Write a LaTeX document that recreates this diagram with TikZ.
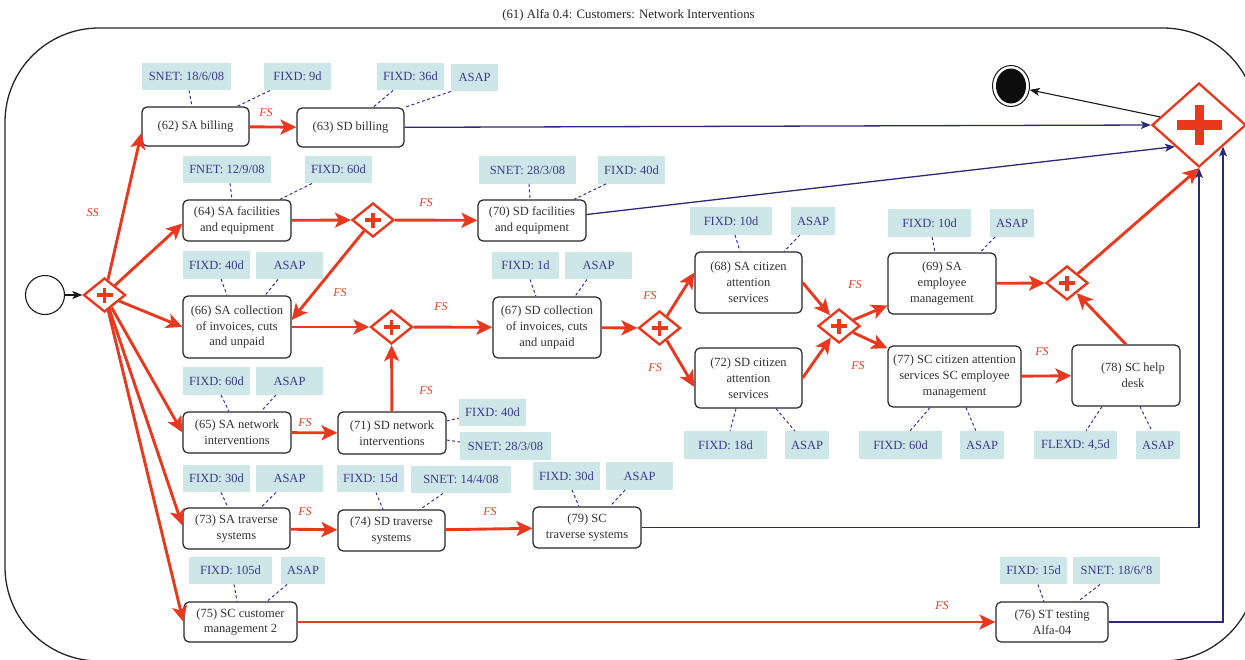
\documentclass[tikz,border=0pt]{standalone}
\usepackage{fontspec}
\setmainfont{Liberation Serif}
\usetikzlibrary{arrows.meta,shapes.geometric,calc}
\definecolor{bred}{HTML}{E8391E}
\definecolor{navy}{HTML}{2C2A78}
\definecolor{labfill}{HTML}{CDE7E9}
\definecolor{labtext}{HTML}{3A3A8C}
\definecolor{dashcol}{HTML}{3B2FA0}
\definecolor{tasktext}{HTML}{333333}
\begin{document}
\begin{tikzpicture}[x=1pt,y=-1pt,
  task/.style={draw=black!85, line width=1.2pt, rounded corners=5pt, fill=white, align=center,
    inner sep=0pt, text=tasktext, font=\fontsize{12.5}{15.8}\selectfont},
  sz/.style 2 args={minimum width=#1pt, minimum height=#2pt},
  lab/.style={fill=labfill, text=labtext, inner sep=0pt, minimum height=27.5pt,
    font=\fontsize{12.5}{13}\selectfont},
  gw/.style={diamond, draw=bred, line width=2.4pt, fill=white, minimum width=42pt,
    minimum height=34pt, inner sep=0pt,
    path picture={
      \fill[bred] ([xshift=-8pt,yshift=-1.8pt]path picture bounding box.center) rectangle ([xshift=8pt,yshift=1.8pt]path picture bounding box.center);
      \fill[bred] ([xshift=-1.8pt,yshift=-7.5pt]path picture bounding box.center) rectangle ([xshift=1.8pt,yshift=7.5pt]path picture bounding box.center);}},
  gwbig/.style={diamond, draw=bred, line width=2.3pt, fill=white, minimum width=94pt,
    minimum height=84pt, inner sep=0pt,
    path picture={
      \fill[bred] ([xshift=-22.5pt,yshift=-5pt]path picture bounding box.center) rectangle ([xshift=22.5pt,yshift=5pt]path picture bounding box.center);
      \fill[bred] ([xshift=-4.5pt,yshift=-20pt]path picture bounding box.center) rectangle ([xshift=4.5pt,yshift=20pt]path picture bounding box.center);}},
  startev/.style={circle, draw=black!90, line width=1.1pt, minimum size=39pt, inner sep=0pt},
  endev/.style={ellipse, draw=black!90, line width=1pt, minimum width=37pt, minimum height=41pt, inner sep=0pt,
    path picture={\fill[black!95] (path picture bounding box.center) ellipse [x radius=15pt, y radius=17.5pt];}},
  ra/.style={draw=bred, line width=2.9pt, -{Stealth[length=16pt,width=15pt,inset=4pt]}},
  na/.style={draw=navy, line width=1.3pt, -{Stealth[length=10pt,width=8pt,inset=2.5pt]}},
  ka/.style={draw=black!90, line width=1.1pt, -{Stealth[length=10pt,width=8pt,inset=2.5pt]}},
  dc/.style={draw=dashcol, line width=1pt, dash pattern=on 3pt off 2.5pt},
  fs/.style={text=bred, inner sep=0pt, font=\fontsize{12}{12}\selectfont\itshape}
]
\useasboundingbox (0,0) rectangle (1245,659);
\clip (0,0) rectangle (1245,659);

% title and frame
\node[font=\fontsize{12.8}{14}\selectfont, text=black!85] (title) at (628.5,15.5) {(61) Alfa 0.4: Customers: Network Interventions};
\draw[line width=1.3pt, black!85, rounded corners=94pt] (5,28) rectangle (1257,661);

% tasks
\node[task,sz={107}{39}] (t62) at (195.5,126.5) {(62) SA billing};
\node[task,sz={107}{39}] (t63) at (350.5,127.5) {(63) SD billing};
\node[task,sz={108}{41}] (t64) at (237,220.5) {(64) SA facilities\\and equipment};
\node[task,sz={108}{41}] (t70) at (532,220.5) {(70) SD facilities\\and equipment};
\node[task,sz={108}{62}] (t66) at (237,327) {(66) SA collection\\of invoices, cuts\\and unpaid};
\node[task,sz={108}{61}] (t67) at (547,327.5) {(67) SD collection\\of invoices, cuts\\and unpaid};
\node[task,sz={107}{61}] (t68) at (748.5,282.5) {(68) SA citizen\\attention\\services};
\node[task,sz={107}{60}] (t72) at (748.5,378) {(72) SD citizen\\attention\\services};
\node[task,sz={108}{61}] (t69) at (942,283.5) {(69) SA\\employee\\management};
\node[task,sz={133}{61}] (t77) at (954.5,376.5) {(77) SC citizen attention\\services SC employee\\management};
\node[task,sz={108}{61}] (t78) at (1126,375.5) {\hspace*{14pt}(78) SC help\\\hspace*{14pt}desk};
\node[task,sz={108}{41}] (t65) at (237,432.5) {(65) SA network\\interventions};
\node[task,sz={108}{42}] (t71) at (392,433) {(71) SD network\\interventions};
\node[task,sz={107}{41}] (t73) at (236.5,528.5) {(73) SA traverse\\systems};
\node[task,sz={107}{41}] (t74) at (391.5,530.5) {(74) SD traverse\\systems};
\node[task,sz={108}{41}] (t79) at (587,527.5) {(79) SC\\traverse systems};
\node[task,sz={113}{40}] (t75) at (240.5,622) {(75) SC customer\\management 2};
\node[task,sz={112}{40}] (t76) at (1052,622) {(76) ST testing\\Alfa-04};

% labels
\node[lab,minimum width=89pt] (l62a) at (186.5,76.5) {SNET: 18/6/08};
\node[lab,minimum width=67pt] (l62b) at (297.5,76.5) {FIXD: 9d};
\node[lab,minimum width=67pt] (l63a) at (410.5,76.5) {FIXD: 36d};
\node[lab,minimum width=47pt] (l63b) at (474.5,77.5) {ASAP};
\node[lab,minimum width=88pt] (l64a) at (227,169.5) {FNET: 12/9/08};
\node[lab,minimum width=67pt] (l64b) at (338.5,169.5) {FIXD: 60d};
\node[lab,minimum width=97pt] (l70a) at (527.5,170) {SNET: 28/3/08};
\node[lab,minimum width=67pt] (l70b) at (631.5,170) {FIXD: 40d};
\node[lab,minimum width=67pt] (l66a) at (216.5,265) {FIXD: 40d};
\node[lab,minimum width=67pt] (l66b) at (289.5,265.5) {ASAP};
\node[lab,minimum width=67pt] (l67a) at (525.5,265.5) {FIXD: 1d};
\node[lab,minimum width=67pt] (l67b) at (598.5,265.5) {ASAP};
\node[lab,minimum width=82pt] (l68a) at (731,221) {FIXD: 10d};
\node[lab,minimum width=44pt] (l68b) at (813,221) {ASAP};
\node[lab,minimum width=83pt] (l72a) at (725.5,445) {FIXD: 18d};
\node[lab,minimum width=44pt] (l72b) at (807,445) {ASAP};
\node[lab,minimum width=83pt] (l69a) at (929.5,223) {FIXD: 10d};
\node[lab,minimum width=44pt] (l69b) at (1012,223) {ASAP};
\node[lab,minimum width=83pt] (l77a) at (900.5,445) {FIXD: 60d};
\node[lab,minimum width=44pt] (l77b) at (982,445) {ASAP};
\node[lab,minimum width=83pt] (l78a) at (1075.5,445) {FLEXD: 4,5d};
\node[lab,minimum width=44pt] (l78b) at (1158,445) {ASAP};
\node[lab,minimum width=67pt] (l65a) at (216.5,381) {FIXD: 60d};
\node[lab,minimum width=67pt] (l65b) at (289.5,381) {ASAP};
\node[lab,minimum width=67pt] (l71a) at (492.5,412.5) {FIXD: 40d};
\node[lab,minimum width=91pt] (l71b) at (505.5,446) {SNET: 28/3/08};
\node[lab,minimum width=67pt] (l73a) at (216.5,478.5) {FIXD: 30d};
\node[lab,minimum width=67pt] (l73b) at (289.5,478.5) {ASAP};
\node[lab,minimum width=67pt] (l74a) at (370.5,478.5) {FIXD: 15d};
\node[lab,minimum width=100pt] (l74b) at (461,479.5) {SNET: 14/4/08};
\node[lab,minimum width=67pt] (l79a) at (566.5,476) {FIXD: 30d};
\node[lab,minimum width=67pt] (l79b) at (639.5,476) {ASAP};
\node[lab,minimum width=83pt] (l75a) at (230.5,570.5) {FIXD: 105d};
\node[lab,minimum width=44pt] (l75b) at (303,570.5) {ASAP};
\node[lab,minimum width=67pt] (l76a) at (1033.5,570.5) {FIXD: 15d};
\node[lab,minimum width=87pt] (l76b) at (1116.5,570.5) {SNET: 18/6/′8};

% dashed label connectors
\draw[dc] (189,0 |- l62a.south) -- (192,0 |- t62.north);
\draw[dc] (270,0 |- l62b.south) -- (237,0 |- t62.north);
\draw[dc] (393,0 |- l63a.south) -- (373,0 |- t63.north);
\draw[dc] (l63b.south west) -- (t63.north east);
\draw[dc] (230,0 |- l64a.south) -- (232,0 |- t64.north);
\draw[dc] (312,0 |- l64b.south) -- (280,0 |- t64.north);
\draw[dc] (529,0 |- l70a.south) -- (530,0 |- t70.north);
\draw[dc] (606,0 |- l70b.south) -- (574,0 |- t70.north);
\draw[dc] (221,0 |- l66a.south) -- (227,0 |- t66.north);
\draw[dc] (278,0 |- l66b.south) -- (265,0 |- t66.north);
\draw[dc] (530,0 |- l67a.south) -- (536,0 |- t67.north);
\draw[dc] (587,0 |- l67b.south) -- (575,0 |- t67.north);
\draw[dc] (735,0 |- l68a.south) -- (740,0 |- t68.north);
\draw[dc] (800,0 |- l68b.south) -- (784,0 |- t68.north);
\draw[dc] (736,0 |- t72.south) -- (730,0 |- l72a.north);
\draw[dc] (776,0 |- t72.south) -- (795,0 |- l72b.north);
\draw[dc] (932,0 |- l69a.south) -- (935,0 |- t69.north);
\draw[dc] (995,0 |- l69b.south) -- (980,0 |- t69.north);
\draw[dc] (930,0 |- t77.south) -- (910,0 |- l77a.north);
\draw[dc] (966,0 |- t77.south) -- (976,0 |- l77b.north);
\draw[dc] (1102,0 |- t78.south) -- (1086,0 |- l78a.north);
\draw[dc] (1140,0 |- t78.south) -- (1152,0 |- l78b.north);
\draw[dc] (221,0 |- l65a.south) -- (229,0 |- t65.north);
\draw[dc] (276,0 |- l65b.south) -- (261,0 |- t65.north);
\draw[dc] (t71.east |- 0,421) -- (l71a.west |- 0,418);
\draw[dc] (t71.east |- 0,440) -- (l71b.west |- 0,442);
\draw[dc] (221,0 |- l73a.south) -- (228,0 |- t73.north);
\draw[dc] (276,0 |- l73b.south) -- (261,0 |- t73.north);
\draw[dc] (376,0 |- l74a.south) -- (383,0 |- t74.north);
\draw[dc] (443,0 |- l74b.south) -- (420,0 |- t74.north);
\draw[dc] (572,0 |- l79a.south) -- (579,0 |- t79.north);
\draw[dc] (625,0 |- l79b.south) -- (610,0 |- t79.north);
\draw[dc] (234,0 |- l75a.south) -- (237,0 |- t75.north);
\draw[dc] (287,0 |- l75b.south) -- (267,0 |- t75.north);
\draw[dc] (1038,0 |- l76a.south) -- (1044,0 |- t76.north);
\draw[dc] (1100,0 |- l76b.south) -- (1078,0 |- t76.north);

% events and gateways
\node[startev] (s) at (45,295) {};
\node[endev] (e) at (1011,86) {};
\node[gw] (g0) at (104.5,295) {};
\node[gw] (g1) at (373,220) {};
\node[gw] (g2) at (391.5,327) {};
\node[gw] (g3) at (659.5,328) {};
\node[gw] (g4) at (839,326) {};
\node[gw] (g5) at (1067,283) {};
\node[gwbig] (gb) at (1199,125) {};

% navy flows
\draw[na] (t63) -- (gb.west);
\draw[na] ($(t70.east)+(0,-6)$) -- ($(gb.west)!0.5!(gb.south)$);
\draw[na] (t79.east) -| (gb.south);
\draw[na] (t76.east) -| ($(gb.east)!0.5!(gb.south)$);
\draw[ka] (gb) -- (e);
\draw[ka] (s) -- (g0);

% red flows
\draw[ra] (g0) -- ($(t62.west)+(0,6.5)$);
\draw[ra] (g0) -- ($(t64.west)+(0,3)$);
\draw[ra] (g0) -- (t66.west);
\draw[ra] (g0) -- (t65.west);
\draw[ra] (g0) -- ($(t73.west)+(0,-3)$);
\draw[ra] (g0) -- (t75.west);
\draw[ra] (t62) -- (t63);
\draw[ra] (t64) -- (g1);
\draw[ra] (g1) -- (t70);
\draw[ra] (g1) -- ($(t66.east)+(0,-7)$);
\draw[ra] (t66) -- (g2);
\draw[ra] (g2) -- (t67);
\draw[ra] (t71) -- (g2);
\draw[ra] (t65) -- (t71);
\draw[ra] (t67) -- (g3);
\draw[ra] (g3) -- ($(t68.west)+(0,-10)$);
\draw[ra] (g3) -- ($(t72.west)+(0,9)$);
\draw[ra] (t68.east) -- (g4);
\draw[ra] (t72.east) -- (g4);
\draw[ra] (g4) -- ($(t69.west)+(0,22)$);
\draw[ra] (g4) -- ($(t77.north west)+(0,3)$);
\draw[ra] (t77) -- (t78);
\draw[ra] (t69) -- (g5);
\draw[ra] (t78.north) -- (g5);
\draw[ra] (g5) -- (gb.south);
\draw[ra] (t73) -- (t74);
\draw[ra] (t74) -- (t79);
\draw[ra] (t75) -- (t76);

% flow labels
\node[fs] (ss1) at (92.5,213) {SS};
\node[fs] (f1) at (266,113) {FS};
\node[fs] (f2) at (426,203) {FS};
\node[fs] (f3) at (340,293) {FS};
\node[fs] (f4) at (441,307) {FS};
\node[fs] (f5) at (426,391) {FS};
\node[fs] (f6) at (650,296) {FS};
\node[fs] (f7) at (655,368) {FS};
\node[fs] (f8) at (855,285) {FS};
\node[fs] (f9) at (858,366) {FS};
\node[fs] (f10) at (1042,352) {FS};
\node[fs] (f11) at (305,423) {FS};
\node[fs] (f12) at (305,512) {FS};
\node[fs] (f13) at (490,512) {FS};
\node[fs] (f14) at (942,606) {FS};
\end{tikzpicture}
\end{document}
